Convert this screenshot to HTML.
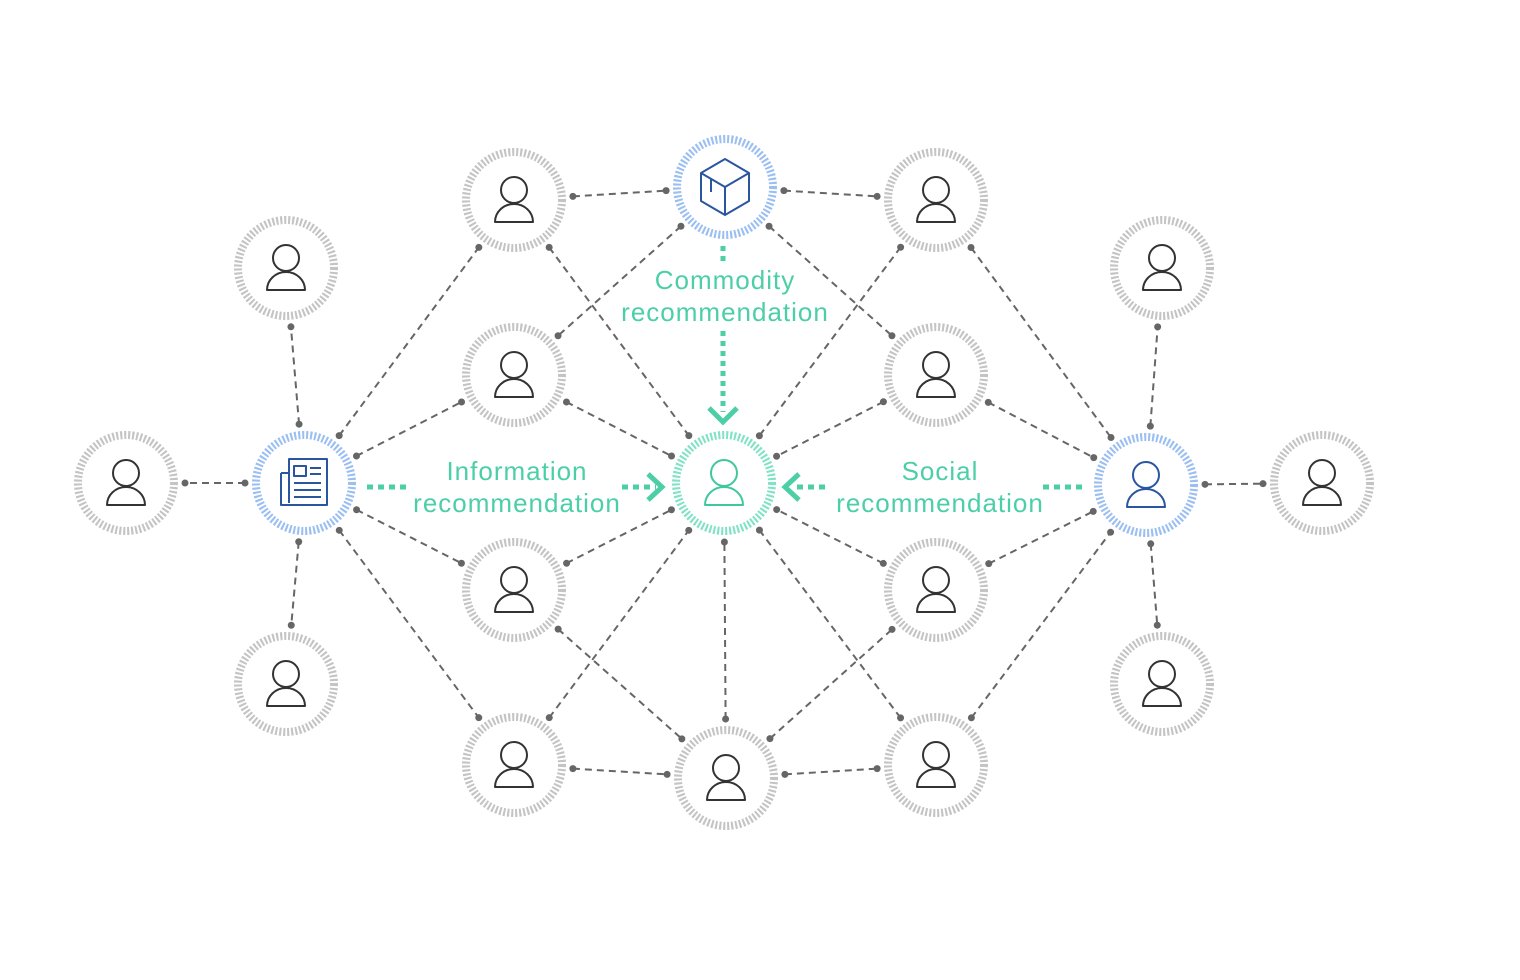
<!DOCTYPE html>
<html><head><meta charset="utf-8"><style>
html,body{margin:0;padding:0;background:#fff;}
svg{display:block;}
text{font-family:"Liberation Sans",sans-serif;font-size:26px;letter-spacing:1px;fill:#4ccfa6;text-anchor:middle;}
</style></head><body>
<svg id="s" width="1520" height="980" viewBox="0 0 1520 980" xmlns="http://www.w3.org/2000/svg">
<g id="edges"></g><g id="nodes"></g>
<g fill="none" stroke="#4ccfa6">
 <line x1="723" y1="246" x2="723" y2="264" stroke-width="5" stroke-dasharray="5 5"/>
 <line x1="723" y1="331" x2="723" y2="412" stroke-width="5" stroke-dasharray="5 5"/>
 <polyline points="709,408 723,422 737,408" stroke-width="5"/>
 <line x1="367" y1="487" x2="410" y2="487" stroke-width="5" stroke-dasharray="6 5"/>
 <line x1="622" y1="487" x2="656" y2="487" stroke-width="5" stroke-dasharray="6 5"/>
 <polyline points="648,474 662,487 648,500" stroke-width="5"/>
 <polyline points="799,474 785,487 799,500" stroke-width="5"/>
 <line x1="797" y1="487" x2="830" y2="487" stroke-width="5" stroke-dasharray="6 5"/>
 <line x1="1043" y1="487" x2="1087" y2="487" stroke-width="5" stroke-dasharray="6 5"/>
</g>
<text x="725" y="289">Commodity</text>
<text x="725" y="321">recommendation</text>
<text x="517" y="480">Information</text>
<text x="517" y="512">recommendation</text>
<text x="940" y="480">Social</text>
<text x="940" y="512">recommendation</text>
</svg>
<script>
var N={fl:[126,483],info:[304,483],tl:[286,268],bl:[286,684],a2:[514,200],b2:[514,375],c2:[514,590],d2:[514,765],
com:[725,187],cen:[724,483],bot:[726,778],a4:[936,200],b4:[936,375],c4:[936,590],d4:[936,765],
soc:[1146,485],tr:[1162,268],br:[1162,684],fr:[1322,483]};
var E=[["info","fl"],["info","tl"],["info","bl"],["info","a2"],["info","b2"],["info","c2"],["info","d2"],
["a2","com"],["a2","cen"],["com","b2"],["com","b4"],["com","a4"],["b2","cen"],["c2","cen"],["c2","bot"],
["d2","cen"],["d2","bot"],["bot","cen"],["bot","c4"],["bot","d4"],["a4","cen"],["a4","soc"],["b4","cen"],["b4","soc"],
["c4","cen"],["c4","soc"],["d4","cen"],["d4","soc"],["soc","tr"],["soc","br"],["soc","fr"]];
var ns="http://www.w3.org/2000/svg",eg=document.getElementById("edges"),ng=document.getElementById("nodes");
function el(t,a,p){var e=document.createElementNS(ns,t);for(var k in a)e.setAttribute(k,a[k]);p.appendChild(e);return e;}
E.forEach(function(e){var A=N[e[0]],B=N[e[1]],dx=B[0]-A[0],dy=B[1]-A[1],L=Math.hypot(dx,dy),ux=dx/L,uy=dy/L,r=59;
var x1=A[0]+ux*r,y1=A[1]+uy*r,x2=B[0]-ux*r,y2=B[1]-uy*r;
el("line",{x1:x1,y1:y1,x2:x2,y2:y2,stroke:"#666","stroke-width":2,"stroke-dasharray":"7 5"},eg);
el("circle",{cx:x1,cy:y1,r:3.5,fill:"#666"},eg);el("circle",{cx:x2,cy:y2,r:3.5,fill:"#666"},eg);});
for(var k in N){var x=N[k][0],y=N[k][1];
var ring="#c4c4c4",ic="#333";
if(k=="info"||k=="com"||k=="soc"){ring="#9cbff2";ic="#2a56a0";}
if(k=="cen"){ring="#82e2c6";ic="#3fc89d";}
el("circle",{cx:x,cy:y,r:48,fill:"#fff",stroke:ring,"stroke-width":8,"stroke-dasharray":"2.1 1.9"},ng);
var g=el("g",{fill:"none",stroke:ic,"stroke-width":2,"stroke-linejoin":"round"},ng);
if(k=="info"){
 el("path",{d:"M"+(x-23)+","+(y-10)+"h8 M"+(x-23)+","+(y-10)+"v32h46v-46h-38v44"},g);
 el("rect",{x:x-10,y:y-17,width:12,height:10},g);
 el("path",{d:"M"+(x+6)+","+(y-15)+"h11M"+(x+6)+","+(y-9)+"h11M"+(x-10)+","+(y)+"h27M"+(x-10)+","+(y+7)+"h27M"+(x-10)+","+(y+14)+"h27"},g);
}else if(k=="com"){
 el("path",{d:"M"+x+","+(y-28)+"L"+(x+24)+","+(y-14)+"V"+(y+14)+"L"+x+","+(y+28)+"L"+(x-24)+","+(y+14)+"V"+(y-14)+"Z M"+(x-24)+","+(y-14)+"L"+x+","+y+"L"+(x+24)+","+(y-14)+"M"+x+","+y+"V"+(y+28)+"M"+(x-14)+","+(y-8)+"v13"},g);
}else{
 el("circle",{cx:x,cy:y-10,r:13},g);
 el("path",{d:"M"+(x-19)+","+(y+22)+"A19,18 0 0 1 "+(x+19)+","+(y+22)+"Z"},g);
}}
</script>
</body></html>
